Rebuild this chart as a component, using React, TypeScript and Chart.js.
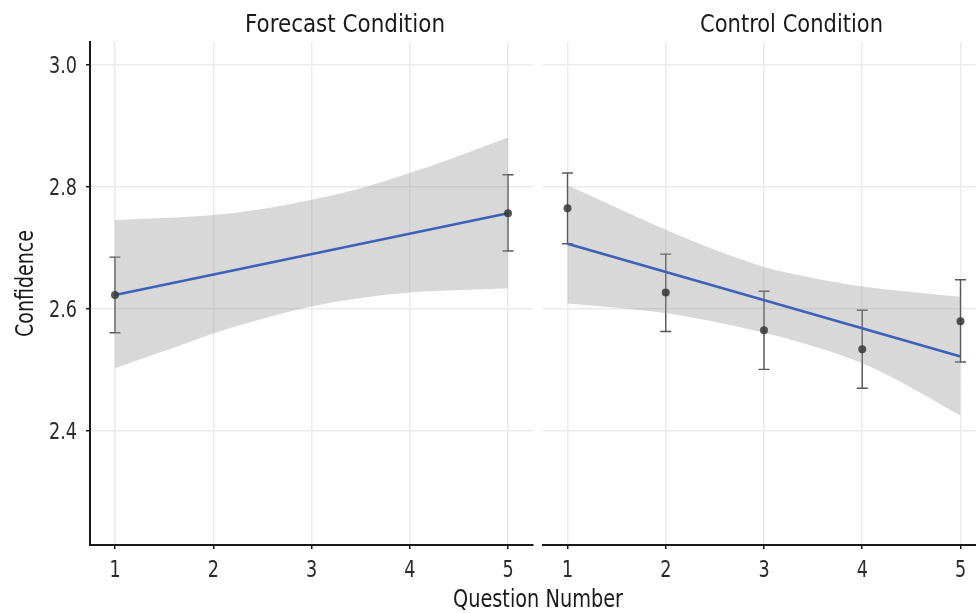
import React, { useEffect, useRef } from "react";
import { Chart, registerables } from "chart.js";

Chart.register(...registerables);

// ---- data ----
const forecastQuestions = [1, 5];
const forecastMean = [2.623, 2.757];
const forecastLow = [2.561, 2.695];
const forecastHigh = [2.685, 2.82];
const forecastFit = [2.623, 2.757];

const controlQuestions = [1, 2, 3, 4, 5];
const controlMean = [2.765, 2.627, 2.565, 2.534, 2.58];
const controlLow = [2.707, 2.563, 2.501, 2.47, 2.513];
const controlHigh = [2.823, 2.69, 2.629, 2.598, 2.648];
const controlFit = [2.707, 2.522];

const fitX = [1, 5];
const bandX = [1, 1.5, 2, 2.5, 3, 3.5, 4, 4.5, 5];
const forecastBandUpper = [2.746, 2.749, 2.754, 2.764, 2.779, 2.798, 2.823, 2.851, 2.881];
const forecastBandLower = [2.503, 2.531, 2.56, 2.584, 2.604, 2.618, 2.627, 2.631, 2.634];
const controlBandUpper = [2.803, 2.766, 2.73, 2.697, 2.669, 2.651, 2.637, 2.628, 2.62];
const controlBandLower = [2.609, 2.602, 2.593, 2.579, 2.561, 2.539, 2.511, 2.471, 2.425];

const xTicks = [1, 2, 3, 4, 5];
const yTicks = [2.4, 2.6, 2.8, 3.0];
const panelTitles = ["Forecast Condition", "Control Condition"];
const yTitle = "Confidence";
const xTitle = "Question Number";

const FONT = '"DejaVu Sans Condensed", "Liberation Sans Narrow", "Roboto", sans-serif';
const W = 976;
const H = 613;
const BOTTOM = 545;

function pts(xs: number[], ys: number[]) {
  return xs.map((x, i) => ({ x, y: ys[i] }));
}

// draw text horizontally condensed so that it spans `target` px
function drawFit(ctx: CanvasRenderingContext2D, s: string, x: number, y: number, target: number, align: "center" | "right") {
  const w = ctx.measureText(s).width;
  const f = target / w;
  ctx.save();
  ctx.translate(x, y);
  ctx.scale(f, 1);
  ctx.textAlign = align;
  ctx.fillText(s, 0, 0);
  ctx.restore();
}

const errorBarPlugin = {
  id: "errorBars",
  beforeDatasetsDraw(chart: any, _args: any, opts: any) {
    const { ctx } = chart;
    const xs = chart.scales.x;
    const ys = chart.scales.y;
    const q: number[] = opts.x || [];
    ctx.save();
    ctx.strokeStyle = "rgba(70,70,70,0.9)";
    ctx.lineWidth = 1.4;
    q.forEach((xv: number, i: number) => {
      const px = xs.getPixelForValue(xv);
      const lo = ys.getPixelForValue(opts.low[i]);
      const hi = ys.getPixelForValue(opts.high[i]);
      ctx.beginPath();
      ctx.moveTo(px, lo);
      ctx.lineTo(px, hi);
      ctx.moveTo(px - 5.5, lo);
      ctx.lineTo(px + 5.5, lo);
      ctx.moveTo(px - 5.5, hi);
      ctx.lineTo(px + 5.5, hi);
      ctx.stroke();
    });
    ctx.restore();
  },
};

const labelPlugin = {
  id: "labels",
  afterDraw(chart: any, _args: any, opts: any) {
    const { ctx } = chart;
    const xs = chart.scales.x;
    const ys = chart.scales.y;
    ctx.save();
    ctx.textBaseline = "alphabetic";
    // tick labels
    ctx.fillStyle = "#2b2b2b";
    ctx.font = `23px ${FONT}`;
    const f = 28 / ctx.measureText("2.6").width;
    xTicks.forEach((v) => {
      const s = String(v);
      drawFit(ctx, s, xs.getPixelForValue(v), 576.5, ctx.measureText(s).width * f, "center");
    });
    if (opts.left) {
      yTicks.forEach((v) => {
        const s = v.toFixed(1);
        drawFit(ctx, s, 77, ys.getPixelForValue(v) + 8.4, ctx.measureText(s).width * f, "right");
      });
      // titles
      ctx.fillStyle = "#1a1a1a";
      ctx.font = `24px ${FONT}`;
      drawFit(ctx, panelTitles[0], 345, 32, 200, "center");
      drawFit(ctx, panelTitles[1], 791.5, 32, 183, "center");
      drawFit(ctx, xTitle, 538, 607, 170, "center");
      ctx.save();
      ctx.translate(33, 283.5);
      ctx.rotate(-Math.PI / 2);
      drawFit(ctx, yTitle, 0, 0, 107, "center");
      ctx.restore();
    }
    ctx.restore();
  },
};

function makeConfig(panel: "left" | "right") {
  const isLeft = panel === "left";
  const q = isLeft ? forecastQuestions : controlQuestions;
  const mean = isLeft ? forecastMean : controlMean;
  const fit = isLeft ? forecastFit : controlFit;
  const up = isLeft ? forecastBandUpper : controlBandUpper;
  const lo = isLeft ? forecastBandLower : controlBandLower;
  return {
    type: "scatter",
    data: {
      datasets: [
        {
          label: "points",
          data: pts(q, mean),
          pointRadius: 4,
          pointBackgroundColor: "rgba(55,55,55,0.85)",
          pointBorderWidth: 0,
          showLine: false,
        },
        {
          label: "fit",
          data: pts(fitX, fit),
          showLine: true,
          borderColor: "rgb(62,96,184)",
          borderWidth: 2.6,
          pointRadius: 0,
        },
        {
          label: "bandLower",
          data: pts(bandX, lo),
          showLine: true,
          borderWidth: 0,
          pointRadius: 0,
          cubicInterpolationMode: "monotone",
          fill: false,
        },
        {
          label: "bandUpper",
          data: pts(bandX, up),
          showLine: true,
          borderWidth: 0,
          pointRadius: 0,
          cubicInterpolationMode: "monotone",
          fill: "-1",
          backgroundColor: "rgba(150,148,146,0.36)",
        },
      ],
    },
    options: {
      animation: false,
      responsive: false,
      events: [],
      layout: {
        autoPadding: false,
        padding: isLeft
          ? { left: 0, top: 42, right: W - 533, bottom: 0 }
          : { left: 543, top: 42, right: 0, bottom: 0 },
      },
      plugins: {
        legend: { display: false },
        tooltip: { enabled: false },
        title: { display: false },
        errorBars: {
          x: q,
          low: isLeft ? forecastLow : controlLow,
          high: isLeft ? forecastHigh : controlHigh,
        },
        labels: { left: isLeft },
      },
      scales: {
        x: {
          type: "linear",
          min: isLeft ? 0.7455 : 0.7506,
          max: isLeft ? 5.2545 : 5.1578,
          afterBuildTicks: (s: any) => {
            s.ticks = xTicks.map((v) => ({ value: v }));
          },
          afterFit: (s: any) => {
            s.height = H - BOTTOM;
            s.paddingLeft = 0;
            s.paddingRight = 0;
          },
          grid: {
            color: "#ebebeb",
            lineWidth: 1.5,
            drawTicks: true,
            tickLength: 4,
            tickColor: "#1a1a1a",
            tickWidth: 1.5,
          },
          border: { display: true, color: "#1a1a1a", width: 2 },
          ticks: { display: false },
        },
        y: {
          type: "linear",
          min: 2.2131,
          max: 3.0377,
          afterBuildTicks: (s: any) => {
            s.ticks = yTicks.map((v) => ({ value: v }));
          },
          afterFit: (s: any) => {
            s.width = isLeft ? 90 : 0;
            s.paddingTop = 0;
            s.paddingBottom = 0;
          },
          grid: {
            color: "#ebebeb",
            lineWidth: 1.5,
            drawTicks: isLeft,
            tickLength: 4,
            tickColor: "#1a1a1a",
            tickWidth: 1.5,
          },
          border: { display: isLeft, color: "#1a1a1a", width: 2 },
          ticks: { display: false },
        },
      },
    },
    plugins: [errorBarPlugin, labelPlugin],
  };
}

export default function App() {
  const leftRef = useRef<HTMLCanvasElement>(null);
  const rightRef = useRef<HTMLCanvasElement>(null);
  useEffect(() => {
    document.body.style.margin = "0";
    const c1 = new Chart(leftRef.current as any, makeConfig("left") as any);
    const c2 = new Chart(rightRef.current as any, makeConfig("right") as any);
    return () => {
      c1.destroy();
      c2.destroy();
    };
  }, []);
  const st: React.CSSProperties = { position: "absolute", left: 0, top: 0, width: W, height: H };
  return (
    <div style={{ position: "relative", width: W, height: H, background: "#fff" }}>
      <canvas ref={rightRef} width={W} height={H} style={st} />
      <canvas ref={leftRef} width={W} height={H} style={st} />
    </div>
  );
}
